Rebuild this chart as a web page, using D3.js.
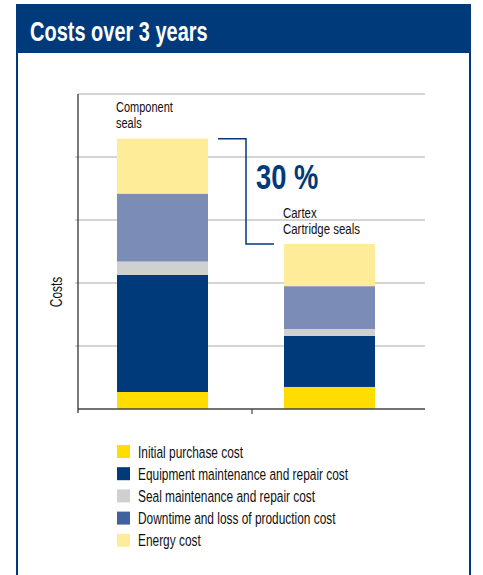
<!DOCTYPE html>
<html><head><meta charset="utf-8">
<script src="https://cdn.jsdelivr.net/npm/d3@7"></script>
<style>
html,body{margin:0;padding:0;background:#fff;}
svg{display:block;}
text{font-family:"Liberation Sans","Arial",sans-serif;}
</style></head>
<body>
<script>
const title = "Costs over 3 years";
const categories = ["Component seals", "Cartex Cartridge seals"];
const categoryLabels = [["Component", "seals"], ["Cartex", "Cartridge seals"]];
const seriesNames = ["Initial purchase cost", "Equipment maintenance and repair cost", "Seal maintenance and repair cost", "Downtime and loss of production cost", "Energy cost"];
const initialPurchase = [0.27, 0.35];
const equipmentMaintenance = [1.86, 0.81];
const sealMaintenance = [0.21, 0.11];
const downtime = [1.08, 0.68];
const energy = [0.87, 0.67];
const yTicks = [0, 1, 2, 3, 4, 5];
const savingLabel = "30 %";
const yAxisLabel = "Costs";

const barColors = ["#FFDD00", "#003A7A", "#D0D0D0", "#7B8CB7", "#FFEC99"];
const legendColors = ["#FFDD00", "#003A7A", "#D0D0D0", "#41609E", "#FFEC99"];
const navy = "#003A7A";
const SX = 0.7;   // condensed look

const W = 483, H = 575;
const svg = d3.select("body").append("svg").attr("width", W).attr("height", H);

function ctext(parent, x, y, sx, rot) {
  return parent.append("text")
    .attr("transform", `translate(${x},${y})${rot ? ` rotate(${rot})` : ""} scale(${sx},1)`)
    .attr("x", 0).attr("y", 0);
}

// frame
svg.append("rect").attr("x", 17).attr("y", 5).attr("width", 453).attr("height", 580)
  .attr("fill", "#fff").attr("stroke", navy).attr("stroke-width", 2);
svg.append("rect").attr("x", 16).attr("y", 5).attr("width", 455).attr("height", 48).attr("fill", navy);
ctext(svg, 30, 40.5, 0.74).attr("fill", "#fff")
  .attr("font-size", 27).attr("font-weight", "bold").text(title);

// scales
const xLeft = 78, xRight = 425;
const y = d3.scaleLinear().domain([0, 5]).range([409, 94]);
const barX = [117, 284];
const barW = 91;
const bandX = d3.scaleOrdinal().domain(categories).range(barX);

// gridlines
svg.append("g").selectAll("line").data(yTicks.filter(t => t > 0)).join("line")
  .attr("x1", d => d === 5 ? xLeft : xLeft - 3).attr("x2", xRight)
  .attr("y1", d => y(d)).attr("y2", d => y(d))
  .attr("stroke", "#ABABAB").attr("stroke-width", 1);

// stacked data
const series = [initialPurchase, equipmentMaintenance, sealMaintenance, downtime, energy];
const rows = categories.map((c, i) => {
  const o = {cat: c};
  seriesNames.forEach((s, j) => o[s] = series[j][i]);
  return o;
});
const stacked = d3.stack().keys(seriesNames)(rows);

svg.append("g").selectAll("g").data(stacked).join("g")
  .attr("fill", (d, i) => barColors[i])
  .selectAll("rect").data(d => d).join("rect")
  .attr("x", d => bandX(d.data.cat)).attr("width", barW)
  .attr("y", d => y(d[1])).attr("height", d => y(d[0]) - y(d[1]));

// axes
svg.append("line").attr("x1", xLeft).attr("x2", xLeft).attr("y1", y(5)).attr("y2", 413)
  .attr("stroke", "#222").attr("stroke-width", 1.2);
svg.append("line").attr("x1", xLeft).attr("x2", xRight).attr("y1", y(0)).attr("y2", y(0))
  .attr("stroke", "#444").attr("stroke-width", 1.5);
svg.append("line").attr("x1", 252).attr("x2", 252).attr("y1", y(0)).attr("y2", 414)
  .attr("stroke", "#444").attr("stroke-width", 1.2);

// y label
ctext(svg, 62, 292, SX, -90).attr("text-anchor", "middle").attr("font-size", 17)
  .attr("fill", "#111").text(yAxisLabel);

// category labels (one text per line)
const tot = categories.map((c, i) => d3.sum(series, s => s[i]));
const labelPos = [[barX[0] - 1, 112, 0.76], [barX[1] - 1, 218, 0.79]];
categoryLabels.forEach((lines, k) => {
  lines.forEach((ln, j) => {
    ctext(svg, labelPos[k][0], labelPos[k][1] + j * 16.3, labelPos[k][2])
      .attr("font-size", 14.5).attr("fill", "#111").text(ln);
  });
});

// bracket
const yTop0 = y(tot[0]), yTop1 = y(tot[1]);
svg.append("path")
  .attr("d", `M${barX[0] + barW + 10},${yTop0}H246V${yTop1}H${barX[1] - 10}`)
  .attr("fill", "none").attr("stroke", navy).attr("stroke-width", 1.5);
ctext(svg, 256, 188.5, 0.76).attr("font-size", 36).attr("font-weight", "bold")
  .attr("fill", navy).text(savingLabel);

// legend
const lg = svg.append("g").selectAll("g").data(seriesNames).join("g")
  .attr("transform", (d, i) => `translate(117,${445 + i * 22.2})`);
lg.append("rect").attr("width", 13).attr("height", 13).attr("fill", (d, i) => legendColors[i]);
lg.each(function(d) {
  ctext(d3.select(this), 21, 12.5, SX).attr("font-size", 17).attr("fill", "#111").text(d);
});
</script>
</body></html>
